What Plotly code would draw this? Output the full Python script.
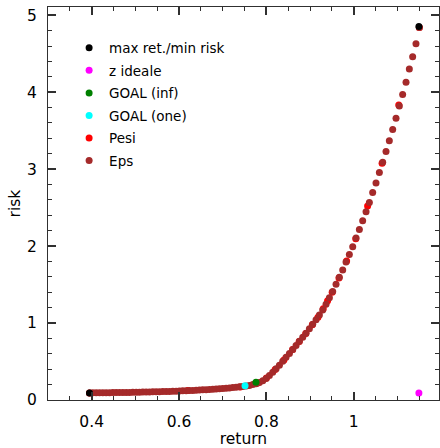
import plotly.graph_objects as go

# ---- data ----
eps_return = [0.395, 0.4026, 0.4103, 0.4179, 0.4255, 0.4331, 0.4408, 0.4484, 0.4560, 0.4636,
              0.4713, 0.4789, 0.4865, 0.4941, 0.5018, 0.5094, 0.5170, 0.5246, 0.5323, 0.5399,
              0.5475, 0.5551, 0.5628, 0.5704, 0.5780, 0.5857, 0.5933, 0.6009, 0.6085, 0.6162,
              0.6238, 0.6314, 0.6390, 0.6467, 0.6543, 0.6619, 0.6695, 0.6772, 0.6848, 0.6924,
              0.7000, 0.7077, 0.7153, 0.7229, 0.7305, 0.7382, 0.7458, 0.7534, 0.7610, 0.7687,
              0.7763, 0.7839, 0.7916, 0.7992, 0.8068, 0.8144, 0.8221, 0.8297, 0.8373, 0.8449,
              0.8526, 0.8602, 0.8678, 0.8754, 0.8831, 0.8907, 0.8983, 0.9059, 0.9136, 0.9212,
              0.9288, 0.9364, 0.9441, 0.9517, 0.9593, 0.9669, 0.9746, 0.9822, 0.9898, 0.9975,
              1.0051, 1.0127, 1.0203, 1.0280, 1.0356, 1.0432, 1.0508, 1.0585, 1.0661, 1.0737,
              1.0813, 1.0890, 1.0966, 1.1042, 1.1118, 1.1195, 1.1271, 1.1347, 1.1423, 1.1500]
eps_risk = [0.092, 0.093, 0.093, 0.094, 0.094, 0.095, 0.095, 0.096, 0.097, 0.097,
            0.098, 0.099, 0.099, 0.100, 0.101, 0.102, 0.103, 0.104, 0.105, 0.106,
            0.107, 0.108, 0.109, 0.111, 0.112, 0.114, 0.115, 0.117, 0.119, 0.121,
            0.123, 0.125, 0.127, 0.129, 0.132, 0.134, 0.137, 0.140, 0.143, 0.146,
            0.150, 0.153, 0.157, 0.161, 0.166, 0.171, 0.176, 0.182, 0.190, 0.200,
            0.212, 0.228, 0.250, 0.280, 0.318, 0.360, 0.405, 0.453, 0.503, 0.554,
            0.605, 0.657, 0.709, 0.762, 0.815, 0.869, 0.925, 0.984, 1.044, 1.105,
            1.170, 1.245, 1.330, 1.410, 1.503, 1.595, 1.690, 1.792, 1.890, 1.990,
            2.105, 2.215, 2.328, 2.447, 2.566, 2.696, 2.820, 2.955, 3.090, 3.230,
            3.370, 3.515, 3.660, 3.820, 3.970, 4.130, 4.300, 4.460, 4.630, 4.840]

pesi_return = [0.395, 0.620, 0.740, 0.780, 0.800, 0.820, 0.840, 0.860, 0.875, 0.890,
               0.905, 0.918, 0.930, 0.940, 0.9505, 0.966, 0.9835, 1.0045, 1.0316, 1.0647,
               1.1029, 1.150]
pesi_risk = [0.092, 0.122, 0.170, 0.222, 0.285, 0.395, 0.520, 0.657, 0.760, 0.865,
             0.977, 1.075, 1.185, 1.290, 1.400, 1.585, 1.805, 2.095, 2.520, 3.075,
             3.835, 4.840]

maxmin_return = [0.395, 1.149]
maxmin_risk = [0.090, 4.855]

ideal_return = [1.149]
ideal_risk = [0.090]

goal_inf_return = [0.776]
goal_inf_risk = [0.230]

goal_one_return = [0.751]
goal_one_risk = [0.186]

X_RANGE = [0.3, 1.195]
Y_RANGE = [0, 5.107]

FONT = "DejaVu Sans"
AX_COLOR = "#303030"

fig = go.Figure()

def add(x, y, name, color, rank):
    fig.add_trace(go.Scatter(
        x=x, y=y, mode="markers", name=name, legendgroup=name, legendrank=rank,
        marker=dict(color=color, size=7, line=dict(width=0)),
    ))

# drawing order (bottom to top); legend order set by legendrank
add(pesi_return, pesi_risk, "Pesi", "#ff0000", 5)
add(eps_return, eps_risk, "Eps", "#a52a2a", 6)
add(goal_one_return, goal_one_risk, "GOAL (one)", "#00ffff", 4)
add(goal_inf_return, goal_inf_risk, "GOAL (inf)", "#008000", 3)
add(ideal_return, ideal_risk, "z ideale", "#ff00ff", 2)
add(maxmin_return, maxmin_risk, "max ret./min risk", "#000000", 1)

# empty helper trace so the top / right tick axes get drawn
fig.add_trace(go.Scatter(x=[None], y=[None], xaxis="x2", yaxis="y2",
                         showlegend=False, hoverinfo="skip", mode="markers"))

tick_common = dict(ticks="inside", ticklen=8, tickwidth=1.5, tickcolor=AX_COLOR)
minor_common = dict(ticks="inside", ticklen=4, tickwidth=1.2, tickcolor=AX_COLOR, showgrid=False)

axis_common = dict(
    showgrid=False, zeroline=False, showline=True, linecolor=AX_COLOR, linewidth=1,
    mirror=True,
    tickfont=dict(family=FONT, size=15.5, color="#000000"),
    automargin=False,
    ticklabelstandoff=7,
    **tick_common,
)

fig.update_layout(
    xaxis=dict(
        range=X_RANGE, dtick=0.2, tick0=0.0,
        minor=dict(dtick=0.05, **minor_common),
        title=dict(text="return", font=dict(family=FONT, size=15.5, color="#000000"), standoff=7),
        **axis_common,
    ),
    yaxis=dict(
        range=Y_RANGE, dtick=1, tick0=0,
        minor=dict(dtick=0.2, **minor_common),
        title=dict(text="risk", font=dict(family=FONT, size=15.5, color="#000000"), standoff=2),
        **axis_common,
    ),
    xaxis2=dict(
        overlaying="x", side="top", range=X_RANGE, dtick=0.2, tick0=0.0,
        showticklabels=False, showgrid=False, zeroline=False, showline=False,
        minor=dict(dtick=0.05, **minor_common),
        automargin=False, **tick_common,
    ),
    yaxis2=dict(
        overlaying="y", side="right", range=Y_RANGE, dtick=1, tick0=0,
        showticklabels=False, showgrid=False, zeroline=False, showline=False,
        minor=dict(dtick=0.2, **minor_common),
        automargin=False, **tick_common,
    ),
)

fig.update_layout(
    width=440, height=448,
    margin=dict(l=48, r=1, t=7, b=48),
    paper_bgcolor="white", plot_bgcolor="white",
    font=dict(family=FONT, color="#000000"),
    showlegend=True,
    legend=dict(
        x=0.054, y=0.935, xanchor="left", yanchor="top",
        bgcolor="rgba(0,0,0,0)", borderwidth=0,
        font=dict(family=FONT, size=13.5, color="#000000"),
        tracegroupgap=2,
    ),
)

fig.write_html(
    "out.html",
    config={"displayModeBar": False},
    post_script="document.body.style.margin='0';document.body.style.overflow='hidden';",
)
